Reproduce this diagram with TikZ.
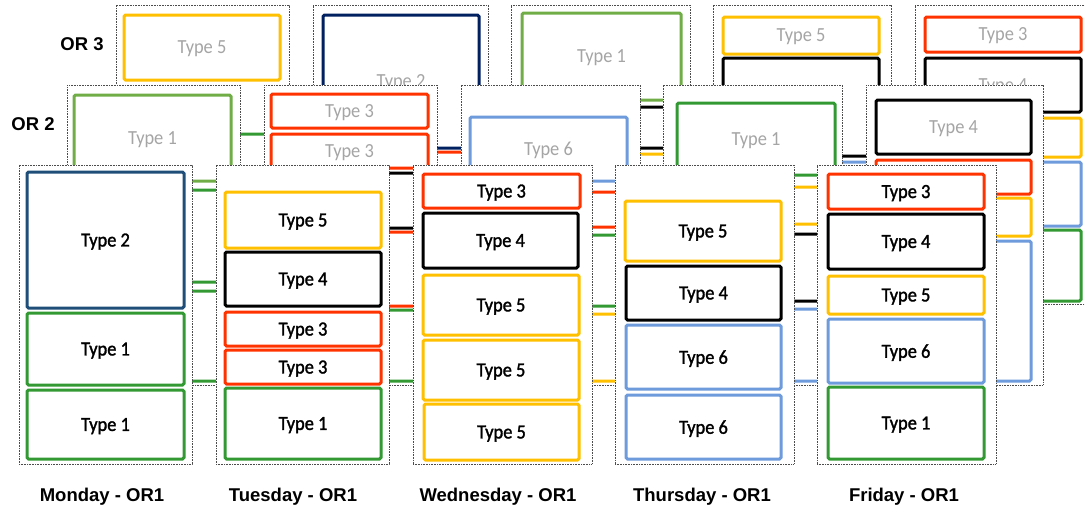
\documentclass[tikz,border=0pt]{standalone}
\usepackage{fontspec}
\setmainfont{Liberation Sans}
\newfontfamily\calfont[FakeStretch=0.92]{Carlito}
\newfontfamily\calfontb[FakeStretch=0.92,FakeBold=1.5]{Carlito}
\definecolor{cyel}{HTML}{FFC000}
\definecolor{cred}{HTML}{FF3300}
\definecolor{cblk}{HTML}{000000}
\definecolor{cblu}{HTML}{6E9BDC}
\definecolor{cgrn}{HTML}{339933}
\definecolor{clgr}{HTML}{70AD47}
\definecolor{cnav}{HTML}{1F4E79}
\definecolor{cnvb}{HTML}{002060}
\definecolor{cgry}{HTML}{A5A5A5}
\tikzset{
  panel/.style={rectangle, draw=black!70, line width=0.8pt, dash pattern=on 0.8pt off 0.8pt, fill=white, inner sep=0pt},
  tb/.style={rectangle, draw=#1, line width=3pt, rounded corners=1.5pt, inner sep=0pt,
    font=\calfont\fontsize{20}{22}\selectfont, text depth=0pt},
  front/.style={text=black, font=\calfontb\fontsize{20}{22}\selectfont},
  back/.style={text=cgry},
  lbl/.style={font=\bfseries\fontsize{18.5}{20}\selectfont, inner sep=0pt},
}
\newcommand\pn[5]{\node[panel, minimum width={#4pt-#2pt}, minimum height={#5pt-#3pt}] (#1) at ({(#2+#4)/2},{(#3+#5)/2}) {};}
\newcommand\bx[8][front]{\node[tb=#7,#1, minimum width={#5pt-#3pt}, minimum height={#6pt-#4pt}] (#2) at ({(#3+#5)/2},{(#4+#6)/2}) {#8};}
\begin{document}
\begin{tikzpicture}[x=1pt,y=-1pt]
\useasboundingbox (0,0) rectangle (1085,512);
\clip (0,0) rectangle (1085,512);
% ---------- OR 3 (back) ----------
\pn{p3a}{116}{5}{289}{304}
\bx[back]{a3y}{124}{15}{280}{80}{cyel}{Type 5}
\bx[back]{a3g}{124}{134}{280}{298}{cgrn}{}
\pn{p3b}{313}{5}{488}{304}
\bx[back]{b3n}{323}{15}{479}{148}{cnvb}{Type 2}
\bx[back]{b3r}{323}{152}{479}{298}{cred}{}
\pn{p3c}{511}{5}{690}{304}
\bx[back]{c3g}{522}{13}{681}{100}{clgr}{Type 1}
\bx[back]{c3k}{522}{107}{681}{148}{cblk}{}
\bx[back]{c3y}{522}{154}{681}{298}{cyel}{}
\pn{p3d}{713}{5}{891}{304}
\bx[back]{d3y}{723}{17}{879}{54}{cyel}{Type 5}
\bx[back]{d3k}{723}{58}{879}{156}{cblk}{}
\bx[back]{d3b}{723}{162}{879}{298}{cblu}{}
\pn{p3e}{915}{5}{1094}{304}
\bx[back]{e3r}{925}{17}{1081}{52}{cred}{Type 3}
\bx[back]{e3k}{925}{58}{1081}{112}{cblk}{Type 4}
\bx[back]{e3y}{925}{118}{1081}{157}{cyel}{}
\bx[back]{e3b}{925}{162}{1081}{226}{cblu}{}
\bx[back]{e3g}{925}{230}{1081}{301}{cgrn}{}
% ---------- OR 2 (middle) ----------
\pn{p2a}{67}{85}{240}{385}
\bx[back]{a2g}{74}{95}{231}{181}{clgr}{Type 1}
\bx[back]{a2h}{74}{190}{231}{282}{cgrn}{}
\bx[back]{a2i}{74}{291}{231}{381}{cgrn}{}
\pn{p2b}{264}{85}{437}{385}
\bx[back]{b2r}{271}{94}{428}{128}{cred}{Type 3}
\bx[back]{b2s}{271}{134}{428}{168}{cred}{Type 3}
\bx[back]{b2k}{271}{173}{428}{228}{cblk}{}
\bx[back]{b2t}{271}{232}{428}{306}{cred}{}
\bx[back]{b2g}{271}{310}{428}{381}{cgrn}{}
\pn{p2c}{461}{85}{640}{385}
\bx[back]{c2b}{470}{117}{627}{181}{cblu}{Type 6}
\bx[back]{c2r}{470}{192}{627}{227}{cred}{}
\bx[back]{c2g}{470}{235}{627}{306}{cgrn}{}
\bx[back]{c2y}{470}{314}{627}{381}{cyel}{}
\pn{p2d}{663}{85}{842}{385}
\bx[back]{d2g}{677}{103}{835}{175}{cgrn}{Type 1}
\bx[back]{d2y}{677}{187}{835}{224}{cyel}{}
\bx[back]{d2k}{677}{234}{835}{301}{cblk}{}
\bx[back]{d2b}{677}{309}{835}{381}{cblu}{}
\pn{p2e}{866}{85}{1043}{385}
\bx[back]{e2k}{876}{100}{1031}{154}{cblk}{Type 4}
\bx[back]{e2r}{876}{160}{1031}{194}{cred}{}
\bx[back]{e2y}{876}{198}{1031}{236}{cyel}{}
\bx[back]{e2b}{876}{241}{1031}{381}{cblu}{}
% ---------- OR 1 (front) ----------
\pn{p1a}{19}{165}{192}{464}
\bx{a1n}{27}{172}{184}{308}{cnav}{Type 2}
\bx{a1g}{27}{313}{184}{385}{cgrn}{Type 1}
\bx{a1h}{27}{390}{184}{459}{cgrn}{Type 1}
\pn{p1b}{216}{165}{389}{464}
\bx{b1y}{225}{192}{381}{248}{cyel}{Type 5}
\bx{b1k}{225}{252}{381}{306}{cblk}{Type 4}
\bx{b1r}{225}{312}{381}{346}{cred}{Type 3}
\bx{b1s}{225}{350}{381}{384}{cred}{Type 3}
\bx{b1g}{225}{388}{381}{459}{cgrn}{Type 1}
\pn{p1c}{413}{165}{592}{464}
\bx{c1r}{423}{174}{580}{208}{cred}{Type 3}
\bx{c1k}{423}{213}{578}{268}{cblk}{Type 4}
\bx{c1y}{423}{275}{579}{335}{cyel}{Type 5}
\bx{c1z}{423}{340}{579}{400}{cyel}{Type 5}
\bx{c1w}{424}{404}{579}{460}{cyel}{Type 5}
\pn{p1d}{615}{165}{794}{464}
\bx{d1y}{625}{201}{781}{261}{cyel}{Type 5}
\bx{d1k}{626}{266}{781}{320}{cblk}{Type 4}
\bx{d1b}{626}{325}{781}{389}{cblu}{Type 6}
\bx{d1c}{626}{395}{781}{459}{cblu}{Type 6}
\pn{p1e}{817}{165}{996}{464}
\bx{e1r}{828}{174}{984}{209}{cred}{Type 3}
\bx{e1k}{828}{214}{984}{269}{cblk}{Type 4}
\bx{e1y}{828}{276}{984}{314}{cyel}{Type 5}
\bx{e1b}{828}{319}{984}{383}{cblu}{Type 6}
\bx{e1g}{828}{387}{984}{459}{cgrn}{Type 1}
% ---------- labels ----------
\node[lbl] (or3) at (82,44) {OR 3};
\node[lbl] (or2) at (33,124) {OR 2};
\node[lbl] (lmon) at (102,497) {Monday - OR1};
\node[lbl] (ltue) at (293,497) {Tuesday - OR1};
\node[lbl] (lwed) at (498,497) {Wednesday - OR1};
\node[lbl] (lthu) at (702,497) {Thursday - OR1};
\node[lbl] (lfri) at (904,497) {Friday - OR1};
\end{tikzpicture}
\end{document}
